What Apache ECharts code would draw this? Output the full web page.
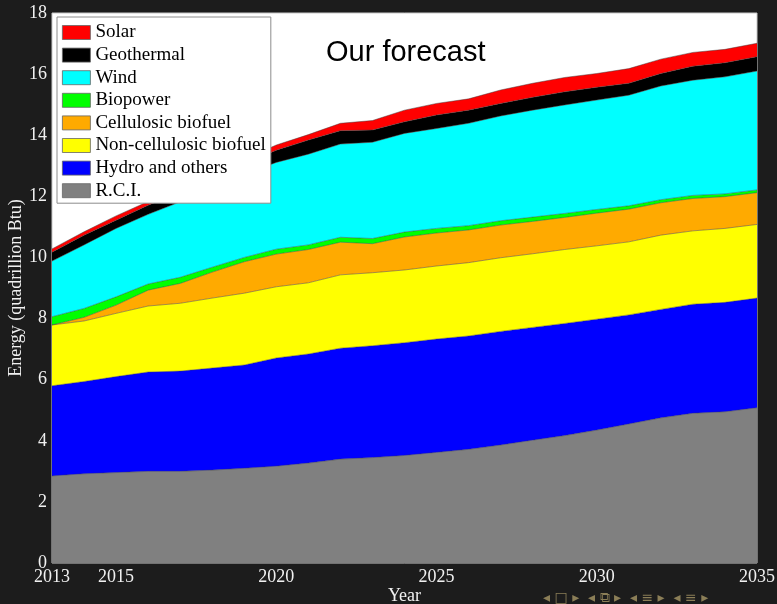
<!DOCTYPE html>
<html>
<head>
<meta charset="utf-8">
<script src="https://cdn.jsdelivr.net/npm/echarts@6/dist/echarts.min.js"></script>
<style>
html,body{margin:0;padding:0;background:#1c1c1c;}
#c{width:777px;height:604px;}
</style>
</head>
<body>
<div id="c"></div>
<script>
const years = ['2013','2014','2015','2016','2017','2018','2019','2020','2021','2022','2023','2024','2025','2026','2027','2028','2029','2030','2031','2032','2033','2034','2035'];
const xTickLabels = ['2013','2015','2020','2025','2030','2035'];
const yTickValues = [0,2,4,6,8,10,12,14,16,18];

const rci        = [2.85,2.92,2.96,3.00,3.00,3.04,3.10,3.17,3.27,3.40,3.45,3.52,3.62,3.72,3.86,4.02,4.17,4.35,4.55,4.75,4.90,4.95,5.08];
const hydro      = [2.95,3.02,3.14,3.25,3.28,3.34,3.38,3.54,3.57,3.63,3.66,3.69,3.71,3.71,3.72,3.69,3.67,3.63,3.57,3.55,3.57,3.58,3.59];
const nonCell    = [1.99,1.98,2.07,2.16,2.22,2.29,2.35,2.33,2.33,2.40,2.39,2.38,2.39,2.40,2.41,2.41,2.42,2.40,2.39,2.43,2.40,2.42,2.41];
const cell       = [0.00,0.12,0.27,0.52,0.65,0.85,1.03,1.07,1.09,1.07,0.95,1.08,1.08,1.07,1.07,1.06,1.05,1.07,1.07,1.06,1.06,1.04,1.04];
const biopower   = [0.27,0.29,0.27,0.20,0.20,0.16,0.14,0.16,0.15,0.16,0.17,0.16,0.15,0.14,0.14,0.14,0.13,0.12,0.11,0.10,0.10,0.09,0.09];
const wind       = [1.82,2.08,2.24,2.28,2.47,2.62,2.72,2.84,2.97,3.05,3.15,3.23,3.27,3.35,3.43,3.50,3.55,3.58,3.62,3.72,3.77,3.83,3.89];
const geothermal = [0.29,0.32,0.27,0.30,0.30,0.30,0.33,0.40,0.46,0.44,0.40,0.38,0.44,0.43,0.41,0.42,0.43,0.42,0.39,0.41,0.46,0.46,0.47];
const solar      = [0.11,0.11,0.14,0.12,0.13,0.15,0.17,0.17,0.18,0.24,0.31,0.38,0.38,0.37,0.44,0.46,0.47,0.45,0.48,0.47,0.45,0.44,0.44];

const seriesDefs = [
  {name:'R.C.I.', data:rci, color:'#808080'},
  {name:'Hydro and others', data:hydro, color:'#0000ff'},
  {name:'Non-cellulosic biofuel', data:nonCell, color:'#ffff00'},
  {name:'Cellulosic biofuel', data:cell, color:'#ffaa00'},
  {name:'Biopower', data:biopower, color:'#00ff00'},
  {name:'Wind', data:wind, color:'#00ffff'},
  {name:'Geothermal', data:geothermal, color:'#000000'},
  {name:'Solar', data:solar, color:'#ff0000'}
];
const legendOrder = ['Solar','Geothermal','Wind','Biopower','Cellulosic biofuel','Non-cellulosic biofuel','Hydro and others','R.C.I.'];

const serif = '"Liberation Serif","Times New Roman",serif';
const chart = echarts.init(document.getElementById('c'), null, {renderer:'canvas'});
chart.setOption({
  backgroundColor:'#1c1c1c',
  animation:false,
  grid:{left:52,right:20,top:13,bottom:41,show:true,backgroundColor:'#ffffff',borderColor:'#c8c8c8',borderWidth:1,outerBoundsMode:'none',containLabel:false},
  legend:{
    data:legendOrder, orient:'vertical', left:57, top:17,
    padding:[6,5,3,5], itemGap:3.6, itemWidth:28, itemHeight:14, itemTextGap:4,
    icon:'rect', backgroundColor:'#ffffff', borderColor:'#8c8c8c', borderWidth:1, borderRadius:0,
    itemStyle:{borderColor:'#666',borderWidth:0.8},
    textStyle:{fontFamily:serif,fontSize:19,color:'#000'}
  },
  xAxis:{
    type:'category', data:years, boundaryGap:false,
    name:'Year', nameLocation:'middle', nameGap:24, nameMoveOverlap:false,
    nameTextStyle:{fontFamily:serif,fontSize:18,color:'#f0f0f0'},
    axisLine:{show:false}, splitLine:{show:false},
    axisTick:{show:false},
    axisLabel:{interval:(i,v)=>xTickLabels.indexOf(v)>=0, fontFamily:serif, fontSize:18, color:'#f0f0f0', margin:5, showMinLabel:true, showMaxLabel:true, hideOverlap:false}
  },
  yAxis:{
    type:'value', min:0, max:18, interval:2,
    name:'Energy (quadrillion Btu)', nameLocation:'middle', nameGap:27, nameMoveOverlap:false,
    nameTextStyle:{fontFamily:serif,fontSize:18,color:'#f0f0f0'},
    axisLine:{show:false}, splitLine:{show:false},
    axisTick:{show:false},
    axisLabel:{fontFamily:serif, fontSize:18, color:'#f0f0f0', margin:5}
  },
  graphic:[
    {type:'text', left:326, top:38, style:{text:'Our forecast', fontFamily:'"Liberation Sans",Arial,sans-serif', fontSize:29, fill:'#000'}},
    {type:'text', x:453, y:-8.7, style:{text:'Renewable energy supply by type (quadrillion Btu)', fontFamily:serif, fontSize:18, fill:'#f0f0f0', align:'center', verticalAlign:'middle'}},
    {type:'text', x:543, y:598, style:{text:'◂ □ ▸  ◂ ⧉ ▸  ◂ ≡ ▸  ◂ ≡ ▸', fontFamily:'"DejaVu Sans",sans-serif', fontSize:14, fill:'#8b7e57', verticalAlign:'middle'}}
  ],
  series: seriesDefs.map(s=>({
    name:s.name, type:'line', stack:'total', symbol:'none',
    data: s.data,
    lineStyle:{width:0.6,color:'#404040',opacity:0.8},
    areaStyle:{color:s.color,opacity:1},
    itemStyle:{color:s.color},
    emphasis:{disabled:true}
  }))
});
</script>
</body>
</html>
